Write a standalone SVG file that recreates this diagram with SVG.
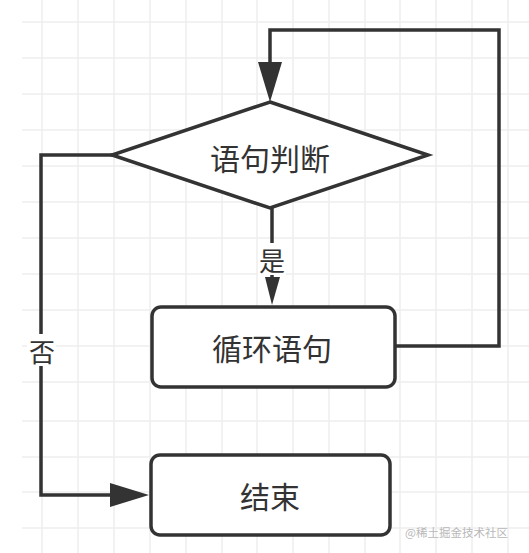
<svg xmlns="http://www.w3.org/2000/svg" width="529" height="553" viewBox="0 0 529 553">
<defs>
<style>
.grid line{stroke:#eeeeee;stroke-width:1.5}
.node{fill:#fff;stroke:#333;stroke-width:3.5}
.edge{fill:none;stroke:#333;stroke-width:3.5}
.head{fill:#333;stroke:none}
.t{font-family:"Noto Sans CJK SC","Noto Sans",sans-serif;fill:#333;text-anchor:middle;dominant-baseline:central}
</style>
</defs>
<rect width="529" height="553" fill="#fff"/>
<g class="grid">
<line x1="42" y1="0" x2="42" y2="553"/><line x1="78" y1="0" x2="78" y2="553"/><line x1="114" y1="0" x2="114" y2="553"/><line x1="150" y1="0" x2="150" y2="553"/><line x1="186" y1="0" x2="186" y2="553"/><line x1="222" y1="0" x2="222" y2="553"/><line x1="257" y1="0" x2="257" y2="553"/><line x1="293" y1="0" x2="293" y2="553"/><line x1="329" y1="0" x2="329" y2="553"/><line x1="365" y1="0" x2="365" y2="553"/><line x1="400" y1="0" x2="400" y2="553"/><line x1="436" y1="0" x2="436" y2="553"/><line x1="472" y1="0" x2="472" y2="553"/><line x1="508" y1="0" x2="508" y2="553"/>
<line x1="22" y1="22" x2="529" y2="22"/><line x1="22" y1="58" x2="529" y2="58"/><line x1="22" y1="94" x2="529" y2="94"/><line x1="22" y1="130" x2="529" y2="130"/><line x1="22" y1="166" x2="529" y2="166"/><line x1="22" y1="202" x2="529" y2="202"/><line x1="22" y1="238" x2="529" y2="238"/><line x1="22" y1="274" x2="529" y2="274"/><line x1="22" y1="310" x2="529" y2="310"/><line x1="22" y1="346" x2="529" y2="346"/><line x1="22" y1="382" x2="529" y2="382"/><line x1="22" y1="421" x2="529" y2="421"/><line x1="22" y1="457" x2="529" y2="457"/><line x1="22" y1="492" x2="529" y2="492"/><line x1="22" y1="528" x2="529" y2="528"/>
</g>
<g id="connectors">
<polyline class="edge" points="395,346 499,346 499,30 270,30 270,66"/>
<polygon class="head" points="258,62 282,62 270,102"/>
<line class="edge" x1="272" y1="208" x2="272" y2="280"/>
<polygon class="head" points="265,277 280,277 272,305"/>
<rect x="258" y="243" width="28" height="32" fill="#fff"/>
<text class="t" x="272" y="259" font-size="26">是</text>
<polyline class="edge" points="112,155 41,155 41,495 115,495"/>
<polygon class="head" points="110,483 110,507 149,495"/>
<rect x="27" y="334" width="29" height="32" fill="#fff"/>
<text class="t" x="42" y="350" font-size="26">否</text>
</g>
<g id="decision">
<polygon class="node" points="270,102 428,155 270,208 112,155"/>
<text class="t" x="270" y="157" font-size="30">语句判断</text>
</g>
<g id="loop">
<rect class="node" x="152" y="307" width="243" height="80" rx="9"/>
<text class="t" x="272" y="347" font-size="30">循环语句</text>
</g>
<g id="end">
<rect class="node" x="151" y="455" width="239" height="80" rx="9"/>
<text class="t" x="270" y="495" font-size="30">结束</text>
</g>
<text x="508" y="532" font-family="Noto Sans CJK SC,sans-serif" font-size="11.5" fill="#b8b8b8" text-anchor="end" dominant-baseline="central">@稀土掘金技术社区</text>
</svg>
